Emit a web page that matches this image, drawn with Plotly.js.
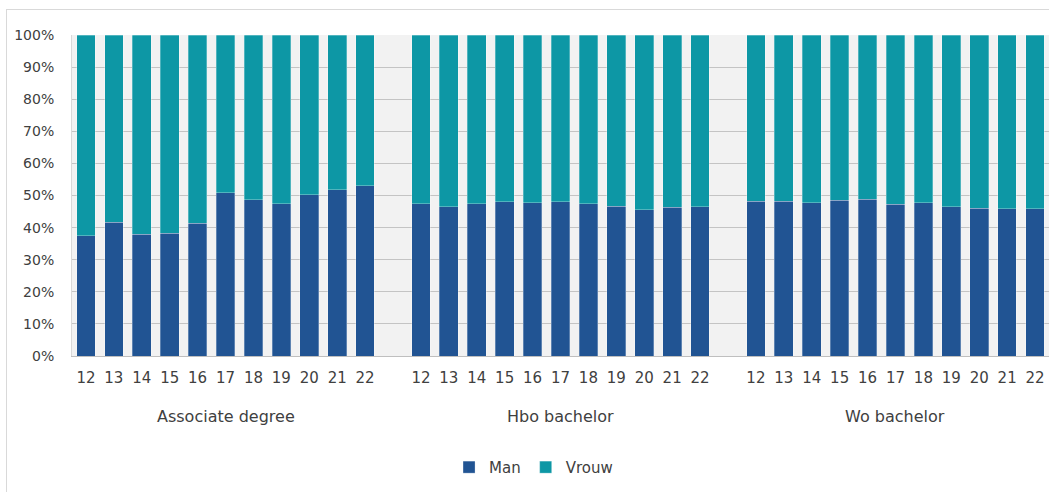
<!DOCTYPE html>
<html>
<head>
<meta charset="utf-8">
<script src="https://cdn.plot.ly/plotly-3.0.1.min.js"></script>
<style>
  html, body { margin: 0; padding: 0; background: #ffffff; overflow: hidden; width: 1049px; height: 492px; }
  #frame { position: absolute; left: 6px; top: 9px; width: 1100px; height: 600px; border: 1px solid #d9d9d9; box-sizing: border-box; }
  #chart { position: absolute; left: 0; top: 0; width: 1049px; height: 492px; }
</style>
</head>
<body>
<div id="frame"></div>
<div id="chart"></div>
<script>
// ---- data ----
var groups = ['Associate degree', 'Hbo bachelor', 'Wo bachelor'];
var years = ['12', '13', '14', '15', '16', '17', '18', '19', '20', '21', '22'];

var manAD    = [37.4, 41.6, 37.9, 38.2, 41.3, 50.8, 48.6, 47.4, 50.2, 51.8, 53.0];
var vrouwAD  = [62.6, 58.4, 62.1, 61.8, 58.7, 49.2, 51.4, 52.6, 49.8, 48.2, 47.0];
var manHbo   = [47.5, 46.5, 47.4, 48.1, 47.8, 48.1, 47.4, 46.6, 45.6, 46.3, 46.5];
var vrouwHbo = [52.5, 53.5, 52.6, 51.9, 52.2, 51.9, 52.6, 53.4, 54.4, 53.7, 53.5];
var manWo    = [48.2, 48.2, 47.7, 48.5, 48.8, 47.2, 47.7, 46.5, 46.1, 45.9, 45.9];
var vrouwWo  = [51.8, 51.8, 52.3, 51.5, 51.2, 52.8, 52.3, 53.5, 53.9, 54.1, 54.1];

var manSeries = [manAD, manHbo, manWo];
var vrouwSeries = [vrouwAD, vrouwHbo, vrouwWo];

// ---- build category slots (one empty slot between groups) ----
var xs = [], man = [], vrouw = [], tickText = [], groupCenters = [];
var slot = 0;
groups.forEach(function (g, gi) {
  var start = slot;
  years.forEach(function (y, yi) {
    xs.push(slot);
    tickText.push(y);
    man.push(manSeries[gi][yi]);
    vrouw.push(vrouwSeries[gi][yi]);
    slot++;
  });
  groupCenters.push((start + slot - 1) / 2);
  if (gi < groups.length - 1) slot++;
});
var lastSlot = slot - 1;

var font = 'DejaVu Sans, Verdana, sans-serif';
var textColor = '#404040';

var traces = [
  { type: 'bar', name: 'Man', x: xs, y: man,
    marker: { color: '#215493', line: { color: 'rgba(255,255,255,0.35)', width: 0.8 } },
    hoverinfo: 'y' },
  { type: 'bar', name: 'Vrouw', x: xs, y: vrouw,
    marker: { color: '#0d97a5', line: { color: 'rgba(255,255,255,0.35)', width: 0.8 } },
    hoverinfo: 'y' }
];

var annotations = groups.map(function (g, i) {
  return { text: g, x: groupCenters[i], xref: 'x', y: -0.188, yref: 'paper',
           xanchor: 'center', yanchor: 'middle', showarrow: false,
           font: { family: font, size: 16, color: textColor } };
});

var layout = {
  width: 1049, height: 492,
  margin: { l: 72, r: 0, t: 35, b: 136, pad: 0 },
  paper_bgcolor: 'rgba(0,0,0,0)',
  plot_bgcolor: '#f2f2f2',
  barmode: 'stack',
  bargap: 0.33,
  showlegend: true,
  legend: { orientation: 'h', x: 0.4724, xanchor: 'center', y: -0.347, yanchor: 'middle',
            font: { family: font, size: 15, color: textColor }, bgcolor: 'rgba(0,0,0,0)',
            traceorder: 'normal' },
  xaxis: {
    range: [-0.5, lastSlot + 0.5],
    tickmode: 'array', tickvals: xs, ticktext: tickText,
    ticks: '', showgrid: false, zeroline: false,
    showline: true, linecolor: '#bfbfbf', linewidth: 1,
    ticklabelstandoff: 8,
    tickfont: { family: font, size: 15, color: textColor },
    fixedrange: true
  },
  yaxis: {
    range: [0, 100], dtick: 10, ticksuffix: '%',
    ticks: '', showgrid: true, gridcolor: '#c4c4c4', gridwidth: 1,
    zeroline: false, showline: true, linecolor: '#d9d9d9', linewidth: 1,
    ticklabelstandoff: 14,
    tickfont: { family: font, size: 14, color: textColor },
    fixedrange: true
  },
  annotations: annotations
};

Plotly.newPlot('chart', traces, layout, { staticPlot: true, displayModeBar: false });
</script>
</body>
</html>
